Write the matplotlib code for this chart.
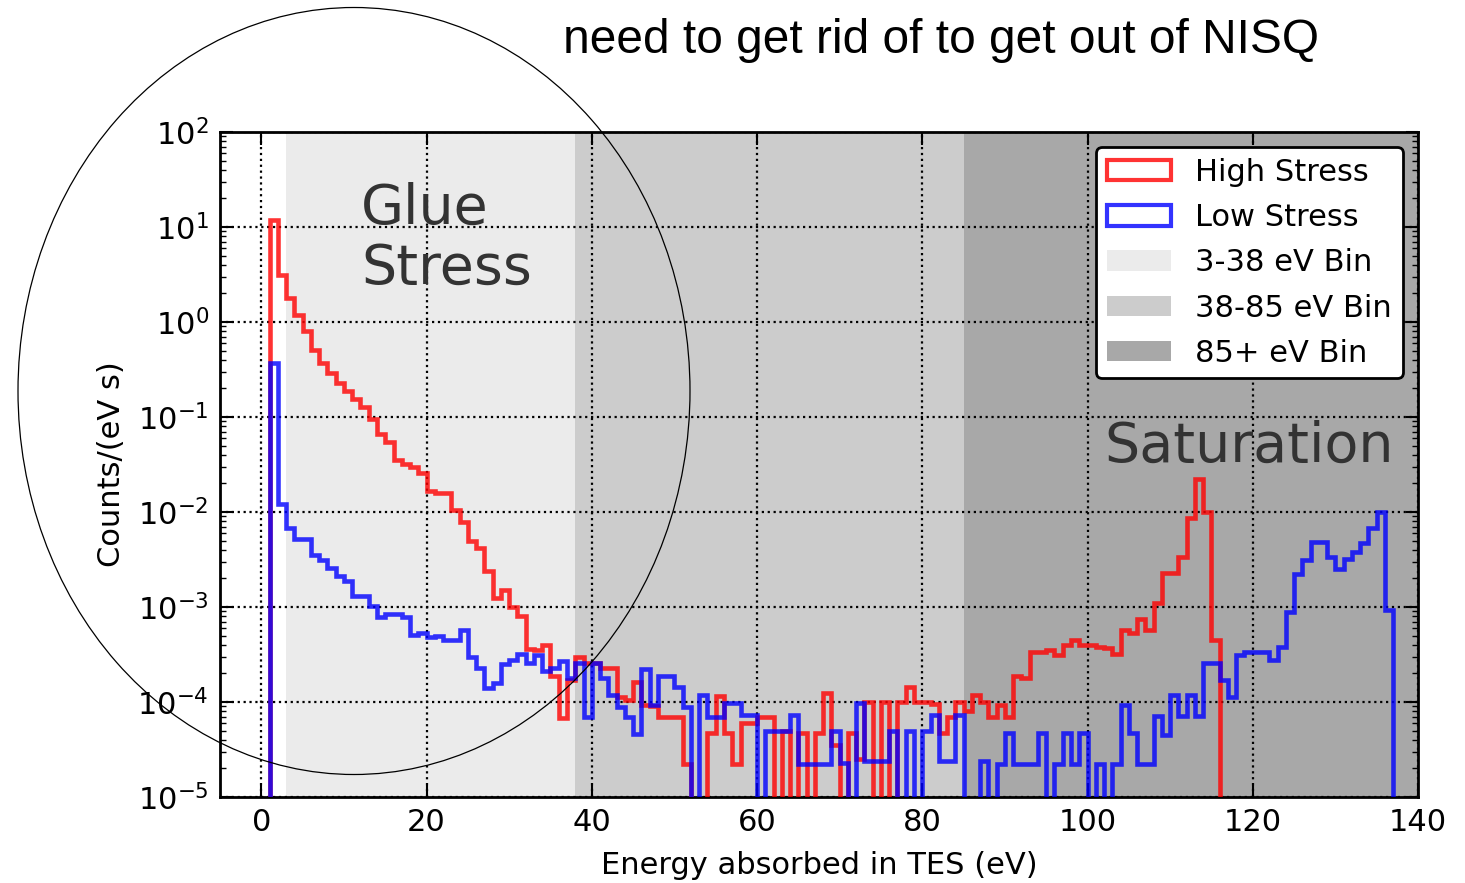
import numpy as np
import matplotlib
matplotlib.use("Agg")
import matplotlib.pyplot as plt
from matplotlib.patches import Patch, Ellipse
from matplotlib.ticker import LogLocator, NullFormatter, FixedLocator

# ---------------- data (1 eV bins) ----------------
red_edges = np.arange(1, 117)     # High Stress bins 1..115
high_stress = [
    11.8, 3.1, 1.8, 1.18, 0.81, 0.51, 0.37, 0.29, 0.23, 0.19,
    0.155, 0.127, 0.096, 0.066, 0.055, 0.035, 0.032, 0.030, 0.026, 0.0166,
    0.016, 0.016, 0.0104, 0.0079, 0.0050, 0.0042, 0.0024, 0.00123, 0.0015, 0.0010,
    0.0008, 0.00036, 0.00035, 0.0004, 0.00019, 0.000068, 0.00017, 0.0003, 0.00026, 0.00026,
    0.00023, 0.00023, 0.000112, 0.000105, 0.000162, 0.000093, 0.00009, 0.00007, 0.00007, 0.00007,
    0.000022, 0, 0, 0.000047, 0.000115, 0.000047, 0.000022, 0.00006, 0.00006, 0.00007,
    0.00007, 0, 0.00005, 0, 0.000047, 0, 0.000047, 0.000123, 0.000035, 0,
    0.000047, 0.000025, 0.0001, 0, 0.0001, 0, 0.0001, 0.000145, 0.0001, 0.0001,
    0.000095, 0.000047, 0.00007, 0.0001, 0.00008, 0.000118, 0.0001, 0.00007, 0.000093, 0.00007,
    0.000186, 0.00018, 0.00034, 0.00034, 0.00035, 0.00031, 0.0004, 0.00045, 0.0004, 0.0004,
    0.00038, 0.00037, 0.00032, 0.00057, 0.00053, 0.00075, 0.00057, 0.0011, 0.0023, 0.0023,
    0.0034, 0.0086, 0.0225, 0.0100, 0.00045,
]
blue_edges = np.arange(1, 138)    # Low Stress bins 1..136
low_stress = [
    0.37, 0.012, 0.0068, 0.0052, 0.0052, 0.0035, 0.0031, 0.0026, 0.0021, 0.0019,
    0.0013, 0.0013, 0.00102, 0.00078, 0.00085, 0.00085, 0.00078, 0.00051, 0.00053, 0.00048,
    0.0005, 0.00045, 0.00045, 0.00057, 0.0003, 0.00023, 0.00014, 0.00016, 0.00025, 0.00028,
    0.00032, 0.00026, 0.00031, 0.00021, 0.00023, 0.00027, 0.00018, 0.00026, 0.000069, 0.00026,
    0.00018, 0.000118, 0.000089, 0.00007, 0.000046, 0.00022, 0.000093, 0.00019, 0.00019, 0.000145,
    0.000089, 0, 0.000118, 0.00007, 0.00007, 0.000097, 0.000097, 0.000073, 0.000073, 0,
    0.000049, 0.000049, 0.000049, 0.000073, 0.000022, 0.000022, 0.000022, 0.000022, 0.000049, 0.000023,
    0, 0.000097, 0.000024, 0.000024, 0.000024, 0.000049, 0, 0.000049, 0, 0.000049,
    0.000073, 0.000024, 0.000024, 0.000073, 0, 0, 0.000024, 0, 0.000022, 0.000047,
    0.000022, 0.000022, 0.000022, 0.000047, 0, 0.000022, 0.000047, 0.000022, 0.000047, 0,
    0.000022, 0, 0.000022, 0.000093, 0.000047, 0.000022, 0.000022, 0.000071, 0.000045, 0.000118,
    0.000071, 0.000118, 0.000071, 0.00026, 0.00026, 0.00017, 0.000114, 0.00031, 0.00034, 0.00034,
    0.00034, 0.00028, 0.00038, 0.00088, 0.0022, 0.0031, 0.0048, 0.0048, 0.0034, 0.0025,
    0.0032, 0.0038, 0.0047, 0.0068, 0.0100, 0.00093,
]

band_limits = [(3, 38), (38, 85), (85, 145)]
band_labels = ["3-38 eV Bin", "38-85 eV Bin", "85+ eV Bin"]
band_colors = ["#ebebeb", "#cccccc", "#a8a8a8"]
series_labels = ["High Stress", "Low Stress"]
x_ticks = [0, 20, 40, 60, 80, 100, 120, 140]

# ---------------- figure ----------------
W, H = 1465, 883
FS = 22
fig = plt.figure(figsize=(W / 100, H / 100), dpi=100)
ax = fig.add_axes([220 / W, 1 - 797 / H, (1418 - 220) / W, (797 - 132) / H])

for (a, b), c in zip(band_limits, band_colors):
    ax.axvspan(a, b, color=c, lw=0, zorder=0.5)

ax.stairs(high_stress, red_edges, color="red", alpha=0.8, lw=3.3, zorder=3)
ax.stairs(low_stress, blue_edges, color="blue", alpha=0.8, lw=3.3, zorder=3)

ax.set_yscale("log")
ax.set_xlim(-5, 140)
ax.set_ylim(1e-5, 1e2)
ax.xaxis.set_major_locator(FixedLocator(x_ticks))
ax.yaxis.set_major_locator(LogLocator(base=10, numticks=20))
ax.yaxis.set_minor_locator(LogLocator(base=10, subs=np.arange(2, 10), numticks=20))
ax.yaxis.set_minor_formatter(NullFormatter())

ax.grid(True, which="major", color="k", linestyle=":", linewidth=1.6)
ax.tick_params(which="both", direction="in", top=True, right=True, labelsize=FS, pad=8)
ax.tick_params(which="major", length=9, width=1.5)
ax.tick_params(which="minor", length=4.5, width=1.0)
for s in ax.spines.values():
    s.set_linewidth(2)

ax.set_xlabel("Energy absorbed in TES (eV)", fontsize=FS, labelpad=10)
ax.set_ylabel("Counts/(eV s)", fontsize=FS, labelpad=8)

ax.text(12.1, 10.8, "Glue", fontsize=40, color="#333333", ha="left", va="baseline", zorder=4)
ax.text(12.1, 2.5, "Stress", fontsize=40, color="#333333", ha="left", va="baseline", zorder=4)
ax.text(102.0, 0.034, "Saturation", fontsize=40, color="#333333", ha="left", va="baseline", zorder=4)

handles = [
    Patch(facecolor="white", edgecolor="red", alpha=0.8, linewidth=3),
    Patch(facecolor="white", edgecolor="blue", alpha=0.8, linewidth=3),
] + [Patch(facecolor=c, edgecolor="none") for c in band_colors]
leg = ax.legend(handles, series_labels + band_labels, loc="upper right", fontsize=FS,
                handlelength=2.1, handleheight=0.65, handletextpad=0.8, labelspacing=0.53,
                borderpad=0.35, borderaxespad=0.5, framealpha=1, fancybox=True,
                edgecolor="black")
leg.get_frame().set_linewidth(2)
leg.set_zorder(5)

fig.text(941.5 / W, 1 - 53 / H, "need to get rid of to get out of NISQ", ha="center",
         va="baseline", fontsize=34.5, family="Liberation Sans")

fig.add_artist(Ellipse((354 / W, 1 - 391 / H), 672 / W, 767 / H, transform=fig.transFigure,
                       fill=False, edgecolor="black", linewidth=0.9, zorder=10))

fig.savefig("out.png", dpi=100)
